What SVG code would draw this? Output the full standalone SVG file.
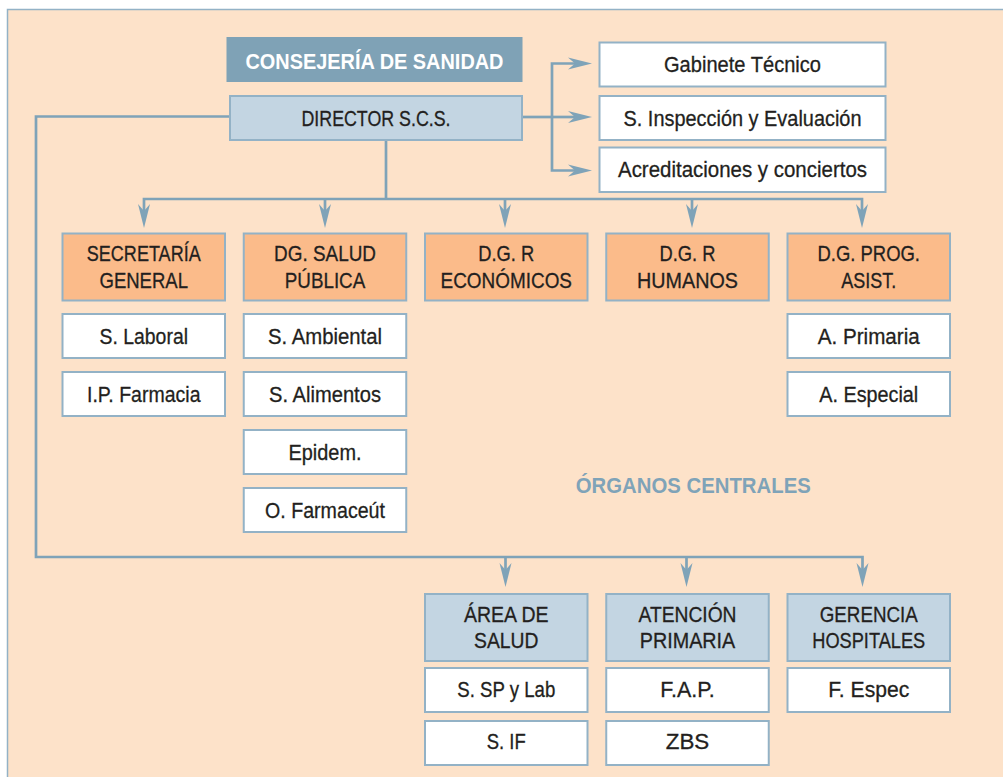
<svg xmlns="http://www.w3.org/2000/svg" width="1003" height="777" viewBox="0 0 1003 777">
<style>
.t{font-family:"Liberation Sans",Arial,sans-serif;font-size:22.5px;fill:#231F20;stroke:#231F20;stroke-width:0.3;text-anchor:middle}
.s{font-size:21.5px}
.b{font-weight:bold;stroke:none}
.w{fill:#FFFFFF;stroke:#93B2C6;stroke-width:2}
.o{fill:#FBBB8A;stroke:#93B2C6;stroke-width:2}
.g{fill:#C3D5E2;stroke:#93B2C6;stroke-width:2}
.c path{fill:none;stroke:#7FA3B8;stroke-width:2.7;stroke-linejoin:miter}
.a{marker-end:url(#ah)}
.aa{marker-start:url(#ah);marker-end:url(#ah)}
</style>
<defs>
<marker id="ah" viewBox="-25 -7 26 14" refX="-10" refY="0" markerWidth="26" markerHeight="14" markerUnits="userSpaceOnUse" orient="auto-start-reverse">
<path d="M0,0 L-24,-6 L-17,0 L-24,6 Z" fill="#7FA3B8"/>
</marker>
</defs>
<rect x="0" y="0" width="1003" height="777" fill="#FFFFFF"/>
<rect x="7.5" y="9.5" width="1010" height="800" fill="#FDE2C9" stroke="#93B2C6" stroke-width="1.5"/>

<g class="c" id="connectors">
<path d="M386,140 V199"/>
<path class="aa" d="M144,218 V199 H862 V218"/>
<path class="a" d="M325,199 V218"/>
<path class="a" d="M505,199 V218"/>
<path class="a" d="M692,199 V218"/>
<path d="M522,117 H552"/>
<path class="a" d="M552,117 H582"/>
<path class="aa" d="M582,63.5 H552 V170.5 H582"/>
<path class="a" d="M230,116.5 H36 V557 H862.5 V577"/>
<path class="a" d="M505.5,557 V577"/>
<path class="a" d="M686.5,557 V577"/>
</g>

<g id="consejeria">
<rect x="226.5" y="37" width="296" height="45" fill="#7FA2B6"/>
<text class="t s b" x="374.5" y="68.5" style="fill:#FFFFFF" textLength="258" lengthAdjust="spacingAndGlyphs">CONSEJERÍA DE SANIDAD</text>
</g>
<g id="director">
<rect class="g" x="230" y="96" width="292" height="44"/>
<text class="t s" x="376" y="126" textLength="149" lengthAdjust="spacingAndGlyphs">DIRECTOR S.C.S.</text>
</g>
<g id="gabinete">
<rect class="w" x="599.5" y="42.5" width="286" height="44"/>
<text class="t" x="742.5" y="71.7" textLength="157" lengthAdjust="spacingAndGlyphs">Gabinete Técnico</text>
</g>
<g id="inspeccion">
<rect class="w" x="599.5" y="96" width="286" height="44"/>
<text class="t" x="742.5" y="126" textLength="238" lengthAdjust="spacingAndGlyphs">S. Inspección y Evaluación</text>
</g>
<g id="acreditaciones">
<rect class="w" x="599.5" y="147.5" width="286" height="44.5"/>
<text class="t" x="742.5" y="177.3" textLength="249" lengthAdjust="spacingAndGlyphs">Acreditaciones y conciertos</text>
</g>

<g id="secretaria">
<rect class="o" x="62.5" y="233.5" width="162.5" height="67"/>
<text class="t" x="143.75" y="261" textLength="114" lengthAdjust="spacingAndGlyphs">SECRETARÍA</text>
<text class="t" x="143.75" y="287.7" textLength="88.5" lengthAdjust="spacingAndGlyphs">GENERAL</text>
</g>
<g id="salud-publica">
<rect class="o" x="243.75" y="233.5" width="162.5" height="67"/>
<text class="t" x="325" y="261" textLength="102" lengthAdjust="spacingAndGlyphs">DG. SALUD</text>
<text class="t" x="325" y="287.7" textLength="80.5" lengthAdjust="spacingAndGlyphs">PÚBLICA</text>
</g>
<g id="economicos">
<rect class="o" x="425" y="233.5" width="162.5" height="67"/>
<text class="t" x="506.25" y="261" textLength="56" lengthAdjust="spacingAndGlyphs">D.G. R</text>
<text class="t" x="506.25" y="287.7" textLength="131.5" lengthAdjust="spacingAndGlyphs">ECONÓMICOS</text>
</g>
<g id="humanos">
<rect class="o" x="606.25" y="233.5" width="162.5" height="67"/>
<text class="t" x="687.5" y="261" textLength="56" lengthAdjust="spacingAndGlyphs">D.G. R</text>
<text class="t" x="687.5" y="287.7" textLength="101" lengthAdjust="spacingAndGlyphs">HUMANOS</text>
</g>
<g id="prog-asist">
<rect class="o" x="787.5" y="233.5" width="162.5" height="67"/>
<text class="t" x="868.75" y="261" textLength="102.5" lengthAdjust="spacingAndGlyphs">D.G. PROG.</text>
<text class="t" x="868.75" y="287.7" textLength="55" lengthAdjust="spacingAndGlyphs">ASIST.</text>
</g>

<g id="s-laboral">
<rect class="w" x="62.5" y="314" width="162.5" height="44"/>
<text class="t" x="143.75" y="344" textLength="88.5" lengthAdjust="spacingAndGlyphs">S. Laboral</text>
</g>
<g id="ip-farmacia">
<rect class="w" x="62.5" y="372" width="162.5" height="44"/>
<text class="t" x="143.75" y="402" textLength="113.5" lengthAdjust="spacingAndGlyphs">I.P. Farmacia</text>
</g>
<g id="s-ambiental">
<rect class="w" x="243.75" y="314" width="162.5" height="44"/>
<text class="t" x="325" y="344" textLength="114" lengthAdjust="spacingAndGlyphs">S. Ambiental</text>
</g>
<g id="s-alimentos">
<rect class="w" x="243.75" y="372" width="162.5" height="44"/>
<text class="t" x="325" y="402" textLength="112" lengthAdjust="spacingAndGlyphs">S. Alimentos</text>
</g>
<g id="epidem">
<rect class="w" x="243.75" y="430" width="162.5" height="44"/>
<text class="t" x="325" y="459.5" textLength="73" lengthAdjust="spacingAndGlyphs">Epidem.</text>
</g>
<g id="o-farmaceut">
<rect class="w" x="243.75" y="488" width="162.5" height="44"/>
<text class="t" x="325" y="517.5" textLength="120" lengthAdjust="spacingAndGlyphs">O. Farmaceút</text>
</g>
<g id="a-primaria">
<rect class="w" x="787.5" y="314" width="162.5" height="44"/>
<text class="t" x="868.75" y="344" textLength="102" lengthAdjust="spacingAndGlyphs">A. Primaria</text>
</g>
<g id="a-especial">
<rect class="w" x="787.5" y="372" width="162.5" height="44"/>
<text class="t" x="868.75" y="402" textLength="99" lengthAdjust="spacingAndGlyphs">A. Especial</text>
</g>

<g id="organos-centrales">
<text class="t s b" x="693.3" y="493.3" style="fill:#7FA3B8" textLength="235" lengthAdjust="spacingAndGlyphs">ÓRGANOS CENTRALES</text>
</g>

<g id="area-salud">
<rect class="g" x="425" y="594" width="162.5" height="67"/>
<text class="t s" x="506.25" y="621.7" textLength="84.5" lengthAdjust="spacingAndGlyphs">ÁREA DE</text>
<text class="t s" x="506.25" y="648.3" textLength="64.5" lengthAdjust="spacingAndGlyphs">SALUD</text>
</g>
<g id="atencion-primaria">
<rect class="g" x="606.25" y="594" width="162.5" height="67"/>
<text class="t s" x="687.5" y="621.7" textLength="98" lengthAdjust="spacingAndGlyphs">ATENCIÓN</text>
<text class="t s" x="687.5" y="648.3" textLength="95.5" lengthAdjust="spacingAndGlyphs">PRIMARIA</text>
</g>
<g id="gerencia-hospitales">
<rect class="g" x="787.5" y="594" width="162.5" height="67"/>
<text class="t s" x="868.75" y="621.7" textLength="98" lengthAdjust="spacingAndGlyphs">GERENCIA</text>
<text class="t s" x="868.75" y="648.3" textLength="113" lengthAdjust="spacingAndGlyphs">HOSPITALES</text>
</g>
<g id="s-sp-lab">
<rect class="w" x="425" y="668" width="162.5" height="44"/>
<text class="t s" x="506.25" y="696.7" textLength="98" lengthAdjust="spacingAndGlyphs">S. SP y Lab</text>
</g>
<g id="s-if">
<rect class="w" x="425" y="721" width="162.5" height="44"/>
<text class="t s" x="506.25" y="748.5" textLength="39" lengthAdjust="spacingAndGlyphs">S. IF</text>
</g>
<g id="fap">
<rect class="w" x="606.25" y="668" width="162.5" height="44"/>
<text class="t s" x="687.5" y="696.7" textLength="54.5" lengthAdjust="spacingAndGlyphs">F.A.P.</text>
</g>
<g id="zbs">
<rect class="w" x="606.25" y="721" width="162.5" height="44"/>
<text class="t s" x="687.5" y="748.5" textLength="43.5" lengthAdjust="spacingAndGlyphs">ZBS</text>
</g>
<g id="f-espec">
<rect class="w" x="787.5" y="668" width="162.5" height="44"/>
<text class="t s" x="868.75" y="696.7" textLength="81" lengthAdjust="spacingAndGlyphs">F. Espec</text>
</g>
</svg>
